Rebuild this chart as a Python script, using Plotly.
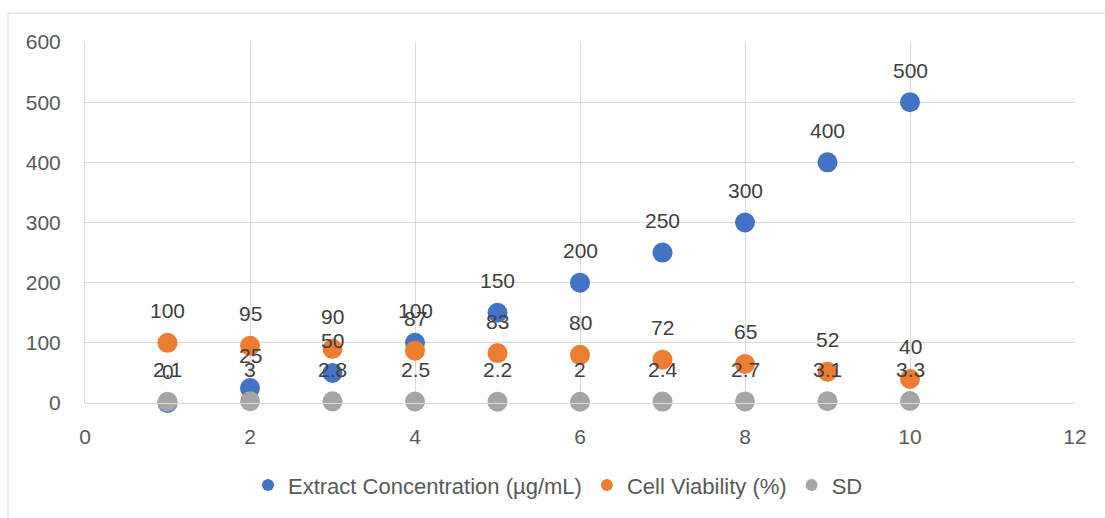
import plotly.graph_objects as go

x_vals = [1, 2, 3, 4, 5, 6, 7, 8, 9, 10]
concentration = [0, 25, 50, 100, 150, 200, 250, 300, 400, 500]
viability = [100, 95, 90, 87, 83, 80, 72, 65, 52, 40]
sd = [2.1, 3, 2.8, 2.5, 2.2, 2, 2.4, 2.7, 3.1, 3.3]

series = [
    ("Extract Concentration (µg/mL)", concentration, "#4472C4"),
    ("Cell Viability (%)", viability, "#ED7D31"),
    ("SD", sd, "#A5A5A5"),
]

FONT = "Liberation Sans"
fig = go.Figure()
annotations = []
for name, vals, color in series:
    fig.add_trace(go.Scatter(
        x=x_vals, y=vals, mode="markers", name=name,
        marker=dict(size=20, color=color, line=dict(width=0)),
        cliponaxis=False,
    ))
    for xv, yv in zip(x_vals, vals):
        annotations.append(dict(
            x=xv, y=yv, xref="x", yref="y", text=str(yv), showarrow=False,
            yshift=32, font=dict(family=FONT, size=21, color="#404040"),
        ))

L, R, T, B = 85, 30, 42, 112
W, H = 1105, 518
pw, ph = W - L - R, H - T - B

def px_x(p):
    return (p - L) / pw

def px_y(p):
    return (H - B - p) / ph

fig.update_layout(
    width=W, height=H,
    margin=dict(l=L, r=R, t=T, b=B),
    paper_bgcolor="white", plot_bgcolor="white",
    font=dict(family=FONT, size=21, color="#595959"),
    xaxis=dict(range=[0, 12], dtick=2, showgrid=True, gridcolor="#D9D9D9",
               gridwidth=1, zeroline=False, showline=True, linecolor="#D9D9D9",
               ticks="", ticklabelstandoff=15, tickfont=dict(size=21, color="#595959")),
    yaxis=dict(range=[0, 600], dtick=100, showgrid=True, gridcolor="#D9D9D9",
               gridwidth=1, zeroline=False, showline=True, linecolor="#D9D9D9",
               ticks="", ticklabelstandoff=19, tickfont=dict(size=21, color="#595959")),
    legend=dict(orientation="h", x=px_x(558), y=px_y(489), xanchor="center",
                yanchor="middle", font=dict(family=FONT, size=22, color="#595959"),
                itemsizing="constant", bgcolor="rgba(0,0,0,0)", itemwidth=30,
                tracegroupgap=0),
    annotations=annotations,
    shapes=[dict(type="rect", xref="paper", yref="paper",
                 x0=px_x(8), x1=px_x(1112), y0=px_y(530), y1=px_y(13),
                 line=dict(color="#D9D9D9", width=1), layer="below")],
)

fig.write_html("out.html")
